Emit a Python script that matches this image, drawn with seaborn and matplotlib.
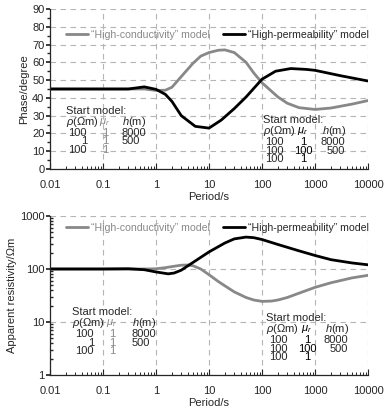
import numpy as np
import pandas as pd
import seaborn as sns
import matplotlib.pyplot as plt
from matplotlib.ticker import LogLocator, NullFormatter, MultipleLocator, FixedLocator, FixedFormatter

# Periods (s) and curve values
period_cond_phase = [0.01, 0.1, 0.3, 0.6, 1, 1.5, 2, 3, 5, 7, 10, 15, 20, 30, 50, 70, 100, 200, 300, 500, 1000, 2000, 5000, 10000]
phase_cond = [45, 45, 45, 45, 44.2, 44.3, 46, 52, 59.5, 63.5, 65.5, 66.8, 67, 65.5, 60, 54, 48.5, 40.5, 37, 34.5, 33.5, 34.3, 36.5, 38.5]

period_perm_phase = [0.01, 0.1, 0.2, 0.3, 0.6, 1, 1.5, 2, 3, 5.5, 10, 17, 30, 50, 100, 180, 350, 700, 1000, 3000, 10000]
phase_perm = [45, 45, 45, 45, 46.2, 44.8, 42, 38, 30, 24, 23, 27.5, 34, 40.5, 50.5, 55, 56.5, 56, 55.5, 52.5, 49.5]

period_cond_rho = [0.01, 0.1, 0.3, 0.6, 1, 1.5, 2, 3, 4, 5, 7, 10, 15, 20, 30, 50, 70, 100, 150, 200, 300, 500, 1000, 2000, 5000, 10000]
rho_cond = [100, 100, 100, 100, 101, 106, 111, 118, 119, 115, 100, 78, 58, 48, 37, 29, 26, 24.5, 24.8, 26, 29, 35, 45, 55, 68, 76]

period_perm_rho = [0.01, 0.1, 0.3, 0.6, 1, 1.7, 2.2, 3, 4, 6, 10, 20, 30, 50, 70, 100, 200, 500, 1000, 2000, 5000, 10000]
rho_perm = [100, 100, 101, 97, 88, 81, 84, 95, 115, 150, 210, 310, 370, 400, 390, 360, 290, 220, 180, 150, 130, 120]

label_cond = "\u201cHigh-conductivity\u201d model"
label_perm = "\u201cHigh-permeability\u201d model"

dec_ticks = [0.01, 0.1, 1, 10, 100, 1000, 10000]
dec_labels = ["0.01", "0.1", "1", "10", "100", "1000", "10000"]

gray = "#888888"
FS = 8

sns.set_theme(style="ticks")
plt.rcParams["font.family"] = ["Liberation Sans", "DejaVu Sans"]
plt.rcParams["font.size"] = FS
plt.rcParams["mathtext.fontset"] = "custom"
plt.rcParams["mathtext.it"] = "Liberation Sans:italic"
plt.rcParams["mathtext.rm"] = "Liberation Sans"

fig = plt.figure(figsize=(3.9, 4.11), dpi=100)
ax1 = fig.add_axes([50 / 390, 1 - 169 / 411, 318 / 390, 160 / 411])
ax2 = fig.add_axes([50 / 390, 1 - 375 / 411, 318 / 390, 159 / 411])

df_p1 = pd.DataFrame({"Period": period_cond_phase, "Value": phase_cond})
df_p2 = pd.DataFrame({"Period": period_perm_phase, "Value": phase_perm})
df_r1 = pd.DataFrame({"Period": period_cond_rho, "Value": rho_cond})
df_r2 = pd.DataFrame({"Period": period_perm_rho, "Value": rho_perm})

sns.lineplot(data=df_p1, x="Period", y="Value", ax=ax1, color=gray, lw=2.0, label=label_cond)
sns.lineplot(data=df_p2, x="Period", y="Value", ax=ax1, color="black", lw=2.0, label=label_perm)
sns.lineplot(data=df_r1, x="Period", y="Value", ax=ax2, color=gray, lw=2.0, label=label_cond)
sns.lineplot(data=df_r2, x="Period", y="Value", ax=ax2, color="black", lw=2.0, label=label_perm)

for ax, leg_y in ((ax1, 0.84), (ax2, 0.925)):
    ax.set_xscale("log")
    ax.set_xlim(0.01, 10000)
    ax.xaxis.set_major_locator(FixedLocator(dec_ticks))
    ax.xaxis.set_major_formatter(FixedFormatter(dec_labels))
    ax.xaxis.set_minor_locator(LogLocator(base=10, subs=np.arange(2, 10)))
    ax.xaxis.set_minor_formatter(NullFormatter())
    ax.tick_params(axis="x", which="major", direction="in", length=4, width=0.8, labelsize=FS, pad=8)
    ax.tick_params(axis="x", which="minor", direction="in", length=2.5, width=0.7)
    ax.grid(True, which="major", ls=(0, (5, 4)), color="#b5b5b5", lw=0.8)
    sns.despine(ax=ax)
    ax.spines["left"].set_linewidth(0.9)
    ax.spines["bottom"].set_linewidth(0.9)
    ax.set_xlabel("Period/s", fontsize=FS, labelpad=1)
    leg = ax.legend(ncol=2, loc="center left", bbox_to_anchor=(0.05, leg_y), frameon=False,
                    handlelength=2.1, handletextpad=0.3, columnspacing=1.2, fontsize=7.6,
                    borderaxespad=0, borderpad=0)
    leg.get_texts()[0].set_color(gray)

ax1.set_ylim(0, 90)
ax1.yaxis.set_major_locator(MultipleLocator(10))
ax1.yaxis.set_minor_locator(MultipleLocator(5))
ax1.tick_params(axis="y", which="major", direction="out", length=3, labelsize=FS, pad=1)
ax1.tick_params(axis="y", which="minor", direction="out", length=2)
ax1.set_ylabel("Phase/degree", fontsize=FS, labelpad=2)

ax2.set_yscale("log")
ax2.set_ylim(1, 1000)
ax2.yaxis.set_major_locator(FixedLocator([1, 10, 100, 1000]))
ax2.yaxis.set_major_formatter(FixedFormatter(["1", "10", "100", "1000"]))
ax2.yaxis.set_minor_locator(LogLocator(base=10, subs=np.arange(2, 10)))
ax2.yaxis.set_minor_formatter(NullFormatter())
ax2.tick_params(axis="y", which="major", direction="out", length=3, labelsize=FS, pad=1)
ax2.tick_params(axis="y", which="minor", direction="in", length=2.5)
ax2.set_ylabel("Apparent resistivity/\u03a9m", fontsize=FS, labelpad=2)


def start_model(x0, y0, mu_color, rho_right, mu_x, h_x, rho_vals, mu_vals, h_vals, h_align, dy=8.5):
    fig.text(x0 / 390, 1 - y0 / 411, "Start model:", fontsize=FS, va="center")
    y1 = y0 + 11
    fig.text(x0 / 390, 1 - y1 / 411, "$\\rho$(\u03a9m)", fontsize=FS, va="center")
    fig.text(mu_x / 390, 1 - y1 / 411, "$\\mu_r$", fontsize=FS, va="center", ha="center", color=mu_color)
    fig.text(h_x[0] / 390, 1 - y1 / 411, "$h$(m)", fontsize=FS, va="center")
    for i, (r, m, h) in enumerate(zip(rho_vals, mu_vals, h_vals)):
        y = y1 + 11 + i * dy
        fig.text(rho_right / 390, 1 - y / 411, r, fontsize=FS, va="center", ha="right")
        fig.text(mu_x / 390, 1 - y / 411, m, fontsize=FS, va="center", ha="center", color=mu_color)
        if h:
            fig.text(h_x[1] / 390, 1 - y / 411, h, fontsize=FS, va="center", ha=h_align)


start_model(66, 111, gray, 87, 105, (122, 122), ["100", "1", "100"], ["1", "1", "1"], ["8000", "500", ""], "left")
start_model(263, 120, "black", 284, 303, (322, 345), ["100", "100", "100"], ["1", "100", "1"], ["8000", "500", ""], "right")
start_model(72, 312, gray, 94, 112, (132, 132), ["100", "1", "100"], ["1", "1", "1"], ["8000", "500", ""], "left")
start_model(266, 318, "black", 288, 307, (325, 348), ["100", "100", "100"], ["1", "100", "1"], ["8000", "500", ""], "right")

fig.savefig("out.png", dpi=100)
